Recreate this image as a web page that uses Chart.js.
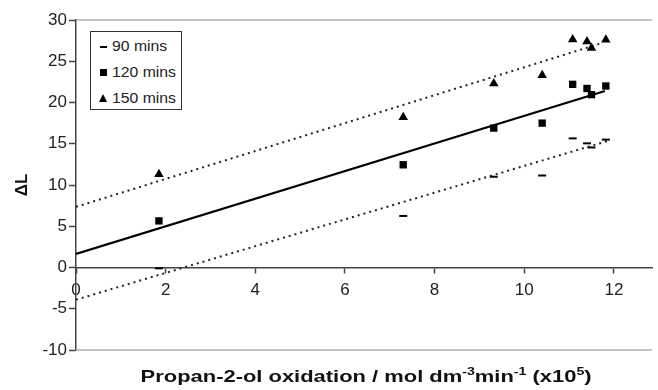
<!DOCTYPE html>
<html>
<head>
<meta charset="utf-8">
<script src="https://cdn.jsdelivr.net/npm/chart.js@4/dist/chart.umd.min.js"></script>
<style>
  html, body { margin: 0; padding: 0; background: #fff; }
  #wrap { position: relative; width: 658px; height: 390px; font-family: "Liberation Sans", Arial, sans-serif; }
  #c { position: absolute; left: 0; top: 0; }
  #legend { position: absolute; left: 90px; top: 31px; width: 90px; height: 77px; border: 1px solid #333; background: #fff; box-sizing: content-box; }
  .item { position: absolute; left: 8px; font-size: 15px; color: #222; line-height: 16px; }
  .item span.t { position: absolute; left: 13px; top: 0; white-space: nowrap; transform: scaleX(1.05); transform-origin: left center; }
  .mk { position: absolute; background: #000; }
  #xtitle { position: absolute; left: 76px; width: 582px; top: 366px; text-align: center; font-weight: bold; font-size: 17px; color: #111; line-height: 22px; white-space: nowrap; transform: scaleX(1.29); transform-origin: 294px 50%; }
  #xtitle sup { font-size: 11px; vertical-align: 7px; line-height: 0; }
</style>
</head>
<body>
<div id="wrap">
  <canvas id="c" width="658" height="390"></canvas>
  <div id="legend">
    <div class="item" style="top:6px;"><div class="mk" style="left:1px;top:8px;width:7px;height:2px;"></div><span class="t">90 mins</span></div>
    <div class="item" style="top:32px;"><div class="mk" style="left:1px;top:5px;width:7px;height:7px;"></div><span class="t">120 mins</span></div>
    <div class="item" style="top:58px;"><div class="mk" style="left:0px;top:4px;width:0;height:0;background:none;border-left:4px solid transparent;border-right:4px solid transparent;border-bottom:8px solid #000;"></div><span class="t">150 mins</span></div>
  </div>
  <div id="xtitle">Propan-2-ol oxidation / mol dm<sup>-3</sup>min<sup>-1</sup> (x10<sup>5</sup>)</div>
</div>
<script>
// Data
const xValues = [1.85, 7.3, 9.32, 10.4, 11.08, 11.4, 11.5, 11.82];
const y90  = [-0.1, 6.25, 11.0, 11.15, 15.65, 15.05, 14.55, 15.5];
const y120 = [5.65, 12.45, 16.9, 17.5, 22.2, 21.7, 20.95, 22.0];
const y150 = [11.3, 18.2, 22.3, 23.3, 27.65, 27.4, 26.6, 27.6];

// Fit lines (endpoints)
const fitX   = [0, 11.8];
const fitY   = [1.65, 21.4];
const upperX = [0, 11.7];
const upperY = [7.35, 27.15];
const lowerX = [0, 11.9];
const lowerY = [-3.9, 15.4];

const yTicks = [-10, -5, 0, 5, 10, 15, 20, 25, 30];
const xTicks = [0, 2, 4, 6, 8, 10, 12];

const pts = (xs, ys) => xs.map((x, i) => ({ x: x, y: ys[i] }));

const frame = {
  id: 'frame',
  beforeDatasetsDraw(chart) {
    const { ctx, chartArea: a } = chart;
    ctx.save();
    ctx.strokeStyle = '#b0b0b0';
    ctx.lineWidth = 1.5;
    ctx.beginPath();
    ctx.moveTo(a.left, a.top); ctx.lineTo(a.right, a.top);
    ctx.moveTo(a.left, a.bottom); ctx.lineTo(a.right, a.bottom);
    ctx.stroke();
    ctx.restore();
  }
};

new Chart(document.getElementById('c'), {
  type: 'scatter',
  data: {
    datasets: [
      { label: 'fit', type: 'line', data: pts(fitX, fitY), borderColor: '#000', borderWidth: 2.2, pointRadius: 0, fill: false, order: 3 },
      { label: 'upper', type: 'line', data: pts(upperX, upperY), borderColor: '#222', borderWidth: 2, borderDash: [2, 4], pointRadius: 0, fill: false, order: 3 },
      { label: 'lower', type: 'line', data: pts(lowerX, lowerY), borderColor: '#222', borderWidth: 2, borderDash: [2, 4], pointRadius: 0, fill: false, order: 3 },
      { label: '90 mins', data: pts(xValues, y90), pointStyle: 'line', pointRadius: 4, borderColor: '#000', backgroundColor: '#000', borderWidth: 2, order: 1 },
      { label: '120 mins', data: pts(xValues, y120), pointStyle: 'rect', pointRadius: 5.2, borderColor: '#000', backgroundColor: '#000', borderWidth: 0, order: 1 },
      { label: '150 mins', data: pts(xValues, y150), pointStyle: 'triangle', pointRadius: 5.5, borderColor: '#000', backgroundColor: '#000', borderWidth: 0, order: 1 }
    ]
  },
  options: {
    responsive: false,
    animation: false,
    devicePixelRatio: 1,
    layout: { padding: { top: 20, right: 0, left: 0, bottom: 40 } },
    plugins: { legend: { display: false }, tooltip: { enabled: false } },
    scales: {
      x: {
        type: 'linear',
        position: { y: 0 },
        min: 0, max: 12.85,
        afterBuildTicks: (s) => { s.ticks = xTicks.map(v => ({ value: v })); },
        afterFit: (s) => { s.height = 0; },
        ticks: { font: { family: 'Liberation Sans', size: 17 }, color: '#222', padding: 8, maxRotation: 0, includeBounds: false },
        grid: { drawOnChartArea: false, tickLength: 5, color: '#444', tickWidth: 1.5 },
        border: { color: '#444', width: 1.5 }
      },
      y: {
        type: 'linear',
        min: -10, max: 30,
        afterBuildTicks: (s) => { s.ticks = yTicks.map(v => ({ value: v })); },
        afterFit: (s) => { s.width = 76; },
        ticks: { font: { family: 'Liberation Sans', size: 17 }, color: '#222', padding: 2 },
        grid: { drawOnChartArea: false, tickLength: 7, color: '#444', tickWidth: 1.5 },
        border: { color: '#444', width: 1.5 },
        title: { display: true, text: 'ΔL', font: { family: 'Liberation Sans', size: 17, weight: 'bold' }, color: '#111', padding: { top: 12, bottom: 0 } }
      }
    }
  },
  plugins: [frame]
});
</script>
</body>
</html>
